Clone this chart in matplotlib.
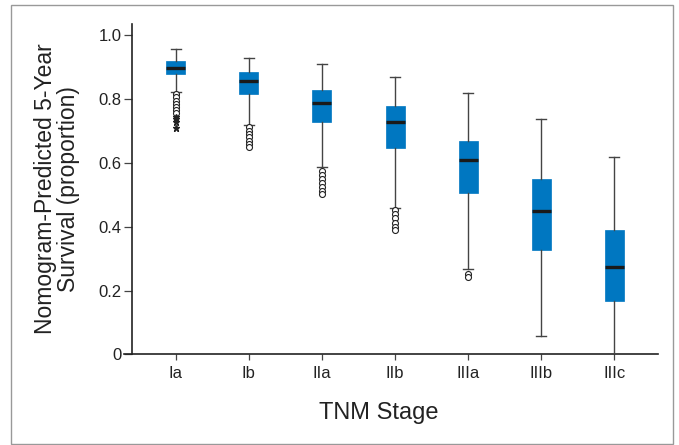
import matplotlib.pyplot as plt
from matplotlib.patches import Rectangle

stages = ["Ia", "Ib", "IIa", "IIb", "IIIa", "IIIb", "IIIc"]
whisker_low = [0.821, 0.718, 0.588, 0.459, 0.268, 0.059, 0.0]
box_low = [0.879, 0.816, 0.729, 0.647, 0.506, 0.328, 0.168]
medians = [0.898, 0.858, 0.788, 0.729, 0.609, 0.449, 0.274]
box_high = [0.918, 0.886, 0.827, 0.778, 0.667, 0.548, 0.389]
whisker_high = [0.958, 0.929, 0.910, 0.869, 0.819, 0.738, 0.618]

# circles = outliers, stars = extreme values (only Ia has those)
outliers = [
    [0.815, 0.805, 0.795, 0.785, 0.775, 0.765, 0.755],
    [0.712, 0.700, 0.690, 0.680, 0.670, 0.660, 0.650],
    [0.575, 0.562, 0.549, 0.536, 0.523, 0.511, 0.502],
    [0.452, 0.440, 0.427, 0.413, 0.400, 0.391],
    [0.252, 0.244],
    [],
    [],
]
extremes_ia = [0.745, 0.736, 0.727, 0.710]

blue = "#0077c1"
plt.rcParams['font.family'] = ['Liberation Sans', 'DejaVu Sans']

fig = plt.figure(figsize=(6.79, 4.45), dpi=100)
ax = fig.add_axes([0.1826, 0.2034, 0.7865, 0.7427])

stats = []
for i in range(len(stages)):
    stats.append({
        "label": stages[i],
        "whislo": whisker_low[i],
        "q1": box_low[i],
        "med": medians[i],
        "q3": box_high[i],
        "whishi": whisker_high[i],
        "fliers": outliers[i],
    })

pos = list(range(1, len(stages) + 1))
ax.bxp(stats, positions=pos, widths=0.26, patch_artist=True,
       boxprops=dict(facecolor=blue, edgecolor=blue, linewidth=0.5),
       medianprops=dict(color="#1a1a1a", linewidth=2.4),
       whiskerprops=dict(color="#444444", linewidth=1.0),
       capprops=dict(color="#444444", linewidth=1.0),
       capwidths=0.14,
       flierprops=dict(marker="o", markersize=4.3, markerfacecolor="white",
                       markeredgecolor="#222222", markeredgewidth=0.8),
       zorder=3)
ax.plot([1] * len(extremes_ia), extremes_ia, linestyle="none", marker="*",
        markersize=5, color="#222222", zorder=4)

ax.set_xlim(0.29, 7.6)
ax.set_ylim(0, 1.035)
ax.set_xticks(pos)
ax.set_xticklabels(stages)
ax.set_yticks([0, 0.2, 0.4, 0.6, 0.8, 1.0])
ax.set_yticklabels(["0", "0.2", "0.4", "0.6", "0.8", "1.0"])

for s in ["top", "right"]:
    ax.spines[s].set_visible(False)
ax.spines["left"].set_position(("data", 0.4))
for s in ["left", "bottom"]:
    ax.spines[s].set_linewidth(1.2)
    ax.spines[s].set_color("#222222")
ax.tick_params(axis="y", length=5.5, width=0.9, color="#444444",
               labelsize=12, labelcolor="#222222", pad=2)
ax.tick_params(axis="x", length=4.5, width=0.9, color="#444444",
               labelsize=12, labelcolor="#222222", pad=4)

fig.text(57 / 679, 1 - 189 / 445, "Nomogram-Predicted 5-Year\nSurvival (proportion)",
         rotation=90, ha="center", va="center", fontsize=16.5,
         linespacing=0.95, color="#222222")
fig.text(379 / 679, 1 - 413 / 445, "TNM Stage", ha="center", va="center",
         fontsize=17, color="#222222")

fig.patches.append(Rectangle((11 / 679, 1 / 445), 662 / 679, 439 / 445,
                             transform=fig.transFigure, fill=False,
                             edgecolor="#999999", linewidth=1.0))

fig.savefig("out.png", dpi=100)
